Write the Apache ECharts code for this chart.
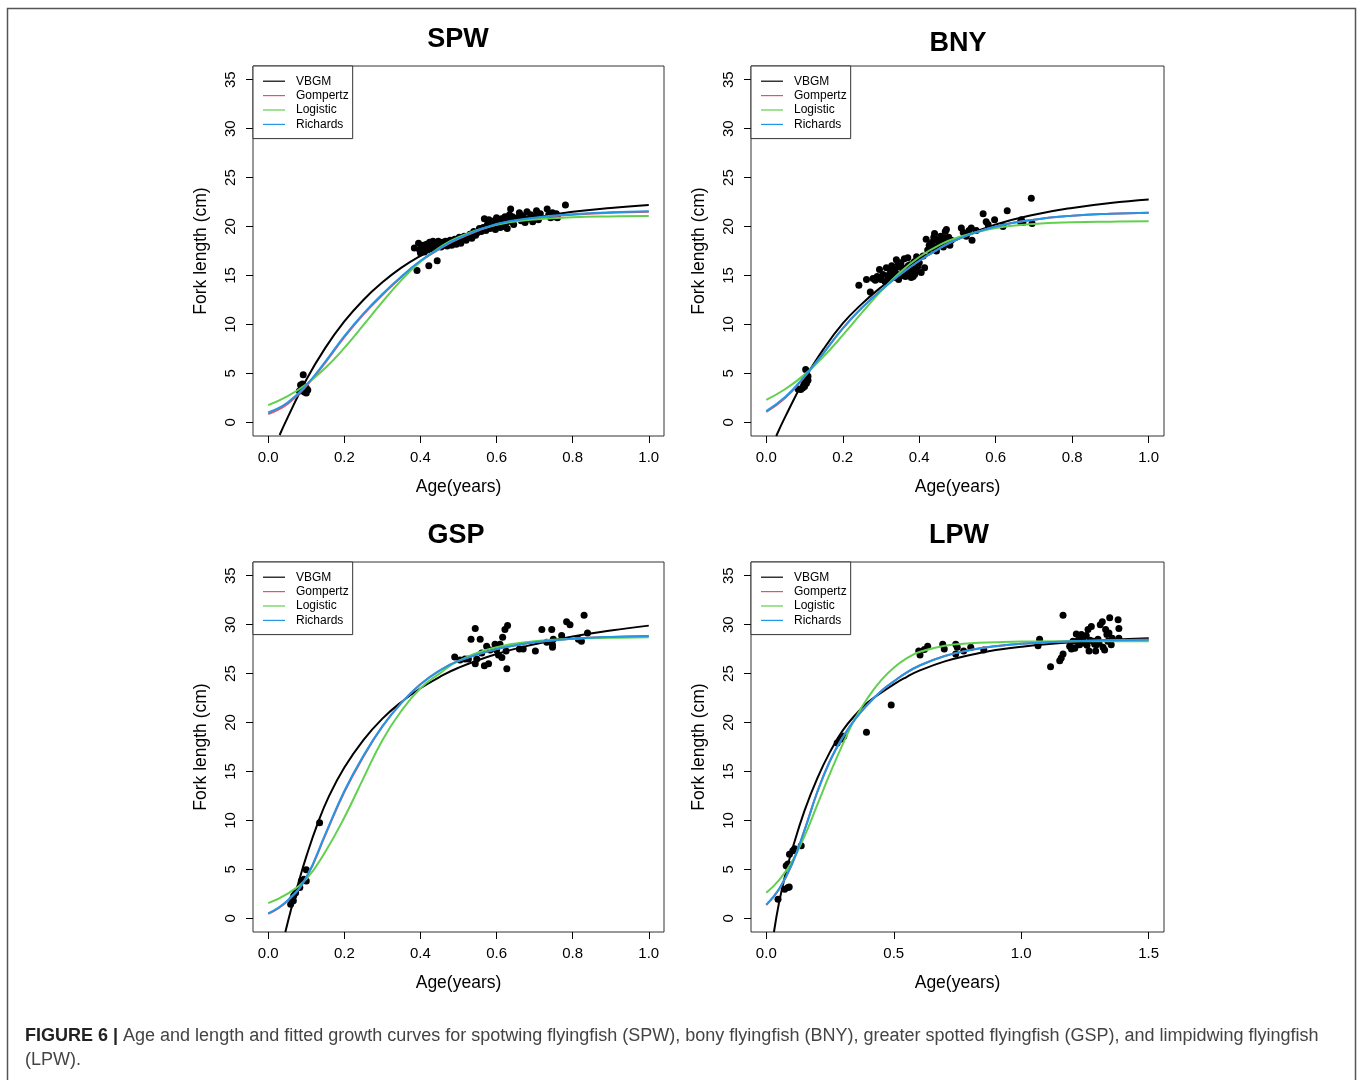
<!DOCTYPE html>
<html>
<head>
<meta charset="utf-8">
<script src="https://cdn.jsdelivr.net/npm/echarts@6/dist/echarts.min.js"></script>
<style>
  html, body { margin: 0; padding: 0; background: #fff; }
  #chart { width: 1358px; height: 1080px; }
</style>
</head>
<body>
<div id="chart"></div>
<script>
// ---- fitted curves ----
// SPW
const spwAge = [0, 0.05, 0.1, 0.15, 0.2, 0.25, 0.3, 0.35, 0.4, 0.45, 0.5, 0.6, 0.7, 0.8, 0.9, 1.0]
const spwVbgmAge = [0.03, 0.05, 0.1, 0.15, 0.2, 0.25, 0.3, 0.35, 0.4, 0.45, 0.5, 0.6, 0.7, 0.8, 0.9, 1.0]
const spwVbgm = [-1.3, 0.4, 4.35, 7.6, 10.3, 12.5, 14.3, 15.8, 17.0, 18.0, 18.85, 20.1, 20.9, 21.5, 21.9, 22.2]
const spwGomp = [0.85, 1.85, 3.7, 6.1, 8.7, 11.0, 13.0, 14.85, 16.45, 17.7, 18.75, 20.2, 20.85, 21.2, 21.4, 21.5]
const spwLogi = [1.75, 2.64, 3.89, 5.54, 7.6, 9.92, 12.3, 14.53, 16.4, 17.86, 18.92, 20.17, 20.72, 20.94, 21.03, 21.07]
const spwRich = [1.0, 2.0, 3.8, 6.2, 8.8, 11.1, 13.1, 14.9, 16.5, 17.75, 18.8, 20.25, 20.9, 21.25, 21.45, 21.55]

// BNY
const bnyAge = [0, 0.05, 0.1, 0.15, 0.2, 0.25, 0.3, 0.35, 0.4, 0.45, 0.5, 0.6, 0.7, 0.8, 0.9, 1.0]
const bnyVbgmAge = [0.026, 0.05, 0.1, 0.15, 0.2, 0.25, 0.3, 0.35, 0.4, 0.45, 0.5, 0.6, 0.7, 0.8, 0.9, 1.0]
const bnyVbgm = [-1.4, 0.6, 4.4, 7.5, 10.1, 12.1, 13.8, 15.3, 16.6, 17.7, 18.7, 20.2, 21.2, 21.9, 22.4, 22.75]
const bnyGomp = [1.05, 2.5, 4.65, 7.1, 9.6, 11.7, 13.5, 15.1, 16.5, 17.7, 18.7, 20.0, 20.7, 21.1, 21.3, 21.4]
const bnyLogi = [2.3, 3.4, 4.87, 6.73, 8.9, 11.2, 13.4, 15.34, 16.89, 18.05, 18.88, 19.84, 20.25, 20.43, 20.5, 20.53]
const bnyRich = [1.15, 2.6, 4.7, 7.1, 9.6, 11.7, 13.5, 15.1, 16.5, 17.7, 18.7, 20.0, 20.7, 21.1, 21.3, 21.4]

// GSP
const gspAge = [0, 0.05, 0.1, 0.15, 0.2, 0.25, 0.3, 0.35, 0.4, 0.45, 0.5, 0.6, 0.7, 0.8, 0.9, 1.0]
const gspVbgmAge = [0.045, 0.06, 0.08, 0.1, 0.13, 0.16, 0.2, 0.25, 0.3, 0.35, 0.4, 0.45, 0.5, 0.6, 0.7, 0.8, 0.9, 1.0]
const gspVbgm = [-1.4, 0.9, 3.7, 6.3, 9.7, 12.5, 15.4, 18.2, 20.4, 22.1, 23.5, 24.65, 25.6, 27.0, 28.0, 28.8, 29.4, 29.9]
const gspGomp = [0.45, 1.75, 4.15, 8.5, 12.9, 16.5, 19.6, 22.0, 23.9, 25.3, 26.3, 27.5, 28.2, 28.55, 28.75, 28.85]
const gspLogi = [1.55, 2.5, 4.0, 6.8, 10.3, 14.3, 18.2, 21.2, 23.5, 25.0, 26.3, 27.7, 28.3, 28.55, 28.65, 28.7]
const gspRich = [0.5, 1.8, 4.2, 8.6, 13.0, 16.6, 19.6, 22.0, 23.9, 25.3, 26.3, 27.5, 28.2, 28.55, 28.75, 28.85]

// LPW
const lpwAge = [0, 0.05, 0.1, 0.15, 0.2, 0.25, 0.3, 0.35, 0.4, 0.45, 0.5, 0.55, 0.6, 0.7, 0.8, 0.9, 1.0, 1.2, 1.5]
const lpwVbgmAge = [0.03, 0.05, 0.075, 0.1, 0.15, 0.2, 0.25, 0.3, 0.35, 0.4, 0.5, 0.55, 0.6, 0.7, 0.8, 0.9, 1.0, 1.2, 1.5]
const lpwVbgm = [-1.4, 1.6, 4.5, 6.9, 11.0, 14.3, 17.0, 19.2, 20.8, 22.1, 23.9, 24.65, 25.3, 26.25, 26.9, 27.4, 27.75, 28.2, 28.6]
const lpwGomp = [1.35, 2.95, 5.45, 9.0, 12.9, 16.1, 18.5, 20.4, 21.9, 23.2, 24.2, 25.1, 25.8, 26.8, 27.4, 27.8, 28.05, 28.3, 28.45]
const lpwLogi = [2.6, 3.9, 5.75, 8.4, 11.6, 14.8, 17.8, 20.5, 22.6, 24.3, 25.6, 26.55, 27.2, 27.85, 28.1, 28.2, 28.27, 28.3, 28.3]
const lpwRich = [1.4, 3.0, 5.5, 9.0, 12.9, 16.1, 18.5, 20.4, 21.9, 23.2, 24.2, 25.1, 25.8, 26.8, 27.4, 27.8, 28.05, 28.3, 28.45]

// ---- observed age / fork length ----
const spwObsAge = [0.092, 0.085, 0.088, 0.092, 0.095, 0.1, 0.1, 0.097, 0.082, 0.09, 0.104,
  0.384, 0.391, 0.422, 0.444, 0.395, 0.398, 0.4, 0.403, 0.405, 0.408, 0.41, 0.413, 0.416, 0.418, 0.42, 0.424, 0.427, 0.43, 0.433, 0.436, 0.44, 0.443, 0.447, 0.45, 0.454, 0.458,
  0.462, 0.466, 0.47, 0.474, 0.478, 0.482, 0.486, 0.49, 0.494, 0.498, 0.502, 0.506, 0.51, 0.515, 0.52, 0.525, 0.53, 0.535, 0.54, 0.545, 0.55, 0.555,
  0.56, 0.565, 0.568, 0.572, 0.576, 0.58, 0.583, 0.587, 0.59, 0.594, 0.597, 0.6, 0.603, 0.606, 0.61, 0.613, 0.616, 0.619, 0.622, 0.625, 0.628, 0.631, 0.634, 0.637, 0.64, 0.642, 0.645,
  0.655, 0.66, 0.665, 0.67, 0.675, 0.68, 0.685, 0.69, 0.695, 0.7, 0.705, 0.71, 0.715,
  0.733, 0.737, 0.742, 0.747, 0.752, 0.757, 0.76, 0.781]
const spwObsLen = [4.85, 3.8, 3.3, 3.6, 3.1, 3.0, 3.5, 3.4, 3.2, 3.9, 3.3,
  17.8, 15.5, 16.0, 16.5, 18.3, 17.6, 17.3, 17.9, 17.5, 18.1, 17.4, 17.8, 18.2, 17.6, 17.9, 18.4, 17.7, 18.1, 18.5, 17.9, 18.3, 18.0, 18.5, 18.2, 17.9, 18.4,
  18.1, 18.5, 18.0, 18.3, 18.6, 18.1, 18.4, 18.7, 18.2, 18.5, 18.9, 18.3, 18.7, 19.0, 18.6, 18.9, 19.2, 18.8, 19.5, 19.1, 19.4, 19.8,
  19.5, 19.9, 20.8, 19.6, 20.2, 20.7, 19.8, 20.3, 20.0, 20.6, 19.7, 20.9, 20.2, 20.5, 19.9, 20.8, 20.3, 20.0, 21.0, 20.4, 19.8, 20.7, 21.2, 21.8, 20.5, 21.0, 20.2,
  20.9, 21.4, 20.6, 21.1, 20.4, 21.5, 20.8, 21.2, 20.5, 21.0, 21.6, 20.7, 21.3,
  21.8, 21.2, 20.9, 21.4, 21.0, 21.3, 20.9, 22.2]

const bnyObsAge = [0.083, 0.09, 0.095, 0.1, 0.103, 0.109, 0.105, 0.098, 0.109, 0.106, 0.1,
  0.242, 0.262, 0.272, 0.279, 0.285, 0.29, 0.296, 0.3, 0.305, 0.31, 0.314, 0.318, 0.322, 0.325, 0.328, 0.331, 0.334, 0.337, 0.34, 0.343, 0.346, 0.349,
  0.352, 0.355, 0.358, 0.361, 0.364, 0.367, 0.37, 0.373, 0.376, 0.379, 0.382, 0.384, 0.387, 0.39, 0.393, 0.396, 0.4, 0.405, 0.41, 0.414,
  0.418, 0.422, 0.426, 0.43, 0.434, 0.438, 0.44, 0.443, 0.445, 0.448, 0.452, 0.456, 0.46, 0.463, 0.466, 0.468, 0.471, 0.474, 0.477, 0.48, 0.484,
  0.51, 0.515, 0.523, 0.53, 0.536, 0.538, 0.549, 0.567, 0.575, 0.58, 0.597, 0.619, 0.63, 0.665, 0.667, 0.671, 0.693, 0.695,
  0.335, 0.345, 0.356, 0.362, 0.371, 0.378, 0.388, 0.395]
const bnyObsLen = [3.4, 3.35, 3.5, 3.65, 5.4, 4.3, 4.0, 3.8, 4.7, 4.5, 4.2,
  14.0, 14.6, 13.3, 14.7, 14.5, 14.9, 15.6, 14.6, 15.1, 14.4, 15.8, 15.0, 14.7, 15.4, 16.0, 15.2, 14.8, 15.6, 16.6, 15.1, 14.6, 15.9,
  16.3, 15.0, 15.5, 16.7, 14.9, 15.8, 16.8, 15.3, 16.1, 14.8, 15.7, 14.9, 16.4, 15.5, 16.9, 15.9, 16.3, 15.3, 17.0, 15.8,
  18.7, 17.6, 18.1, 17.8, 18.4, 18.9, 19.3, 17.9, 17.5, 18.6, 18.2, 19.0, 18.4, 17.9, 18.8, 19.5, 19.7, 18.3, 18.9, 18.1, 18.6,
  19.85, 19.4, 19.0, 19.6, 19.85, 18.6, 19.6, 21.3, 20.5, 20.2, 20.7, 20.0, 21.6, 20.5, 20.7, 20.4, 22.9, 20.3,
  15.5, 16.2, 15.8, 15.2, 16.0, 15.6, 15.1, 16.5]

const gspObsAge = [0.059, 0.063, 0.067, 0.072, 0.066, 0.083, 0.087, 0.094, 0.1, 0.1, 0.135,
  0.49, 0.504, 0.517, 0.526, 0.533, 0.544, 0.544, 0.548, 0.557, 0.561, 0.568, 0.574, 0.579, 0.583, 0.596, 0.6, 0.605, 0.609, 0.614, 0.616, 0.622, 0.625, 0.627, 0.629,
  0.66, 0.67, 0.702, 0.719, 0.732, 0.745, 0.747, 0.749, 0.747, 0.771, 0.784, 0.793, 0.815, 0.823, 0.83, 0.839]
const gspObsLen = [1.44, 1.95, 2.3, 2.6, 1.8, 3.15, 3.8, 4.0, 3.8, 4.96, 9.75,
  26.7, 26.4, 26.5, 26.5, 28.5, 29.6, 26.0, 26.5, 28.5, 27.1, 25.8, 27.8, 26.0, 27.4, 28.0, 27.4, 26.9, 28.0, 26.65, 28.7, 29.5, 27.3, 25.5, 29.9,
  27.5, 27.5, 27.3, 29.5, 28.2, 29.5, 27.95, 28.5, 27.7, 28.9, 30.3, 30.0, 28.5, 28.3, 30.96, 29.15]

const lpwObsAge = [0.046, 0.072, 0.085, 0.09, 0.078, 0.085, 0.091, 0.104, 0.111, 0.137,
  0.278, 0.291, 0.304, 0.393, 0.49,
  0.598, 0.603, 0.62, 0.633, 0.692, 0.698, 0.743, 0.743, 0.749, 0.774, 0.802, 0.853,
  1.066, 1.072, 1.115, 1.151, 1.157, 1.164, 1.164, 1.19, 1.197, 1.203, 1.216, 1.223, 1.229, 1.236, 1.242, 1.249, 1.255, 1.262, 1.266, 1.275,
  1.282, 1.292, 1.295, 1.301, 1.31, 1.318, 1.321, 1.327, 1.331, 1.336, 1.344, 1.347, 1.353, 1.357, 1.38, 1.383, 1.383,
  1.21, 1.225, 1.24, 1.258, 1.27, 1.288, 1.305, 1.34]
const lpwObsLen = [1.95, 2.98, 3.15, 3.2, 5.37, 5.54, 6.55, 6.9, 7.1, 7.4,
  17.9, 18.3, 18.6, 19.0, 21.8,
  27.3, 26.9, 27.45, 27.8, 28.0, 27.5, 28.0, 27.0, 27.7, 27.3, 27.7, 27.4,
  27.85, 28.5, 25.7, 26.3, 26.6, 27.0, 30.96, 27.8, 27.5, 28.3, 29.05, 28.4, 27.95, 29.0, 28.5, 28.1, 28.9, 29.5, 27.3, 29.8,
  28.3, 27.3, 27.95, 28.5, 30.0, 30.3, 27.7, 27.4, 29.5, 29.0, 29.15, 30.7, 27.95, 28.6, 30.5, 29.6, 28.6,
  27.6, 28.0, 28.2, 27.9, 28.4, 28.0, 28.1, 28.3]

// axis ticks
const ageTicks = [0, 0.2, 0.4, 0.6, 0.8, 1.0]
const lpwAgeTicks = [0, 0.5, 1.0, 1.5]
const lengthTicks = [0, 5, 10, 15, 20, 25, 30, 35]

const modelNames = ['VBGM', 'Gompertz', 'Logistic', 'Richards']
const modelColors = ['#000000', '#DF536B', '#61D04F', '#2297E6']

const FONT = "'Liberation Sans', Arial, Helvetica, sans-serif"

function pairs (xs, ys) {
  return xs.map((x, i) => [x, ys[i]])
}

// panel layout (pixels)
const panels = [
  { title: 'SPW', titleX: 458, titleY: 26, left: 253, top: 66, width: 411, xMax: 1.0, ticks: ageTicks,
    obs: pairs(spwObsAge, spwObsLen),
    curves: [pairs(spwVbgmAge, spwVbgm), pairs(spwAge, spwGomp), pairs(spwAge, spwLogi), pairs(spwAge, spwRich)] },
  { title: 'BNY', titleX: 958, titleY: 30, left: 751, top: 66, width: 413, xMax: 1.0, ticks: ageTicks,
    obs: pairs(bnyObsAge, bnyObsLen),
    curves: [pairs(bnyVbgmAge, bnyVbgm), pairs(bnyAge, bnyGomp), pairs(bnyAge, bnyLogi), pairs(bnyAge, bnyRich)] },
  { title: 'GSP', titleX: 456, titleY: 522, left: 253, top: 562, width: 411, xMax: 1.0, ticks: ageTicks,
    obs: pairs(gspObsAge, gspObsLen),
    curves: [pairs(gspVbgmAge, gspVbgm), pairs(gspAge, gspGomp), pairs(gspAge, gspLogi), pairs(gspAge, gspRich)] },
  { title: 'LPW', titleX: 959, titleY: 522, left: 751, top: 562, width: 413, xMax: 1.5, ticks: lpwAgeTicks,
    obs: pairs(lpwObsAge, lpwObsLen),
    curves: [pairs(lpwVbgmAge, lpwVbgm), pairs(lpwAge, lpwGomp), pairs(lpwAge, lpwLogi), pairs(lpwAge, lpwRich)] }
]

const option = {
  backgroundColor: '#fff',
  animation: false,
  title: [],
  legend: [],
  grid: [],
  xAxis: [],
  yAxis: [],
  series: [],
  graphic: [{
    type: 'rect', silent: true, z: -10,
    shape: { x: 7.5, y: 8.5, width: 1348, height: 1100 },
    style: { fill: 'none', stroke: '#555', lineWidth: 1.5 }
  }]
}

panels.forEach(function (p, i) {
  const pad = p.xMax * 0.04
  option.title.push({
    text: p.title, left: p.titleX, top: p.titleY, textAlign: 'center', padding: 0,
    textStyle: { fontSize: 27, fontWeight: 'bold', color: '#000', fontFamily: FONT }
  })
  option.grid.push({
    left: p.left, top: p.top, width: p.width, height: 370,
    show: true, borderColor: '#333', borderWidth: 1, backgroundColor: 'transparent',
    containLabel: false, outerBoundsMode: 'none'
  })
  option.xAxis.push({
    type: 'value', gridIndex: i, min: -pad, max: p.xMax + pad,
    axisLine: { show: false, onZero: false },
    splitLine: { show: false },
    axisTick: { show: true, inside: false, customValues: p.ticks, length: 7, lineStyle: { color: '#000' } },
    axisLabel: { customValues: p.ticks, formatter: v => v.toFixed(1), fontSize: 15, color: '#000', margin: 14, fontFamily: FONT },
    name: 'Age(years)', nameLocation: 'middle', nameGap: 42,
    nameTextStyle: { fontSize: 17.5, color: '#000', fontFamily: FONT }
  })
  option.yAxis.push({
    type: 'value', gridIndex: i, min: -1.4, max: 36.4,
    axisLine: { show: false, onZero: false },
    splitLine: { show: false },
    axisTick: { show: true, inside: false, customValues: lengthTicks, length: 7, lineStyle: { color: '#000' } },
    axisLabel: { customValues: lengthTicks, rotate: 90, fontSize: 15, color: '#000', margin: 15, fontFamily: FONT },
    name: 'Fork length (cm)', nameLocation: 'middle', nameGap: 43,
    nameTextStyle: { fontSize: 17.5, color: '#000', fontFamily: FONT }
  })
  option.legend.push({
    orient: 'vertical', left: p.left, top: p.top,
    padding: [8, 4, 7, 10], itemGap: 0, itemWidth: 22, itemHeight: 1.2, icon: 'rect',
    backgroundColor: '#fff', borderColor: '#333', borderWidth: 1, borderRadius: 0,
    selectedMode: false, data: modelNames,
    textStyle: { fontSize: 12, lineHeight: 14.4, color: '#000', fontFamily: FONT, padding: [0, 0, 0, 6] }
  })
  option.series.push({
    type: 'scatter', name: 'obs', xAxisIndex: i, yAxisIndex: i,
    data: p.obs, symbol: 'circle', symbolSize: 7,
    itemStyle: { color: '#000', opacity: 1 }, silent: true
  })
  p.curves.forEach(function (c, k) {
    option.series.push({
      type: 'line', name: modelNames[k], xAxisIndex: i, yAxisIndex: i,
      data: c, smooth: 0.45, symbol: 'none', clip: true, silent: true,
      color: modelColors[k],
      lineStyle: { color: modelColors[k], width: 2 }
    })
  })
})

option.title.push({
  left: 25, top: 1024, padding: 0,
  text: '{b|FIGURE 6 |} Age and length and fitted growth curves for spotwing flyingfish (SPW), bony flyingfish (BNY), greater spotted flyingfish (GSP), and limpidwing flyingfish\n(LPW).',
  textStyle: {
    fontSize: 18, fontWeight: 'normal', color: '#444', lineHeight: 24, fontFamily: FONT,
    rich: { b: { fontSize: 18, fontWeight: 'bold', color: '#222', lineHeight: 24, fontFamily: FONT } }
  }
})

const myChart = echarts.init(document.getElementById('chart'))
myChart.setOption(option)
</script>
</body>
</html>
